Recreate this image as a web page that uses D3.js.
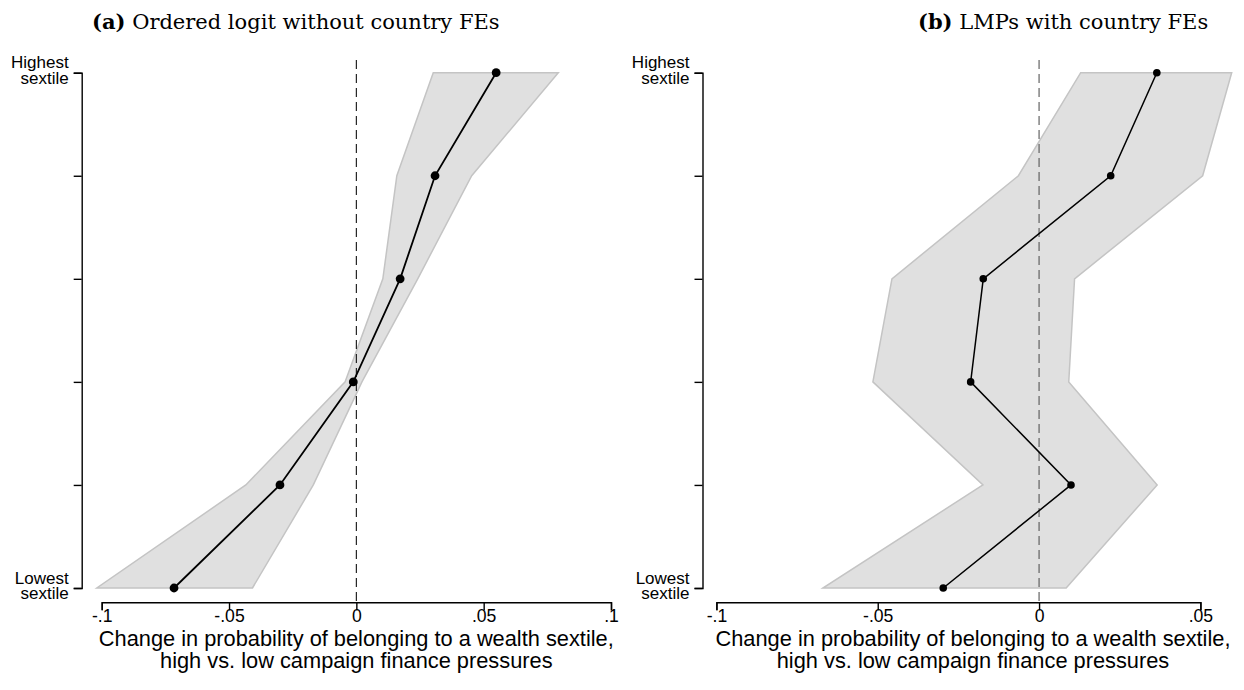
<!DOCTYPE html>
<html>
<head>
<meta charset="utf-8">
<script src="https://cdn.jsdelivr.net/npm/d3@7"></script>
<style>
  body { margin: 0; background: #fff; }
  svg { display: block; }
</style>
</head>
<body>
<svg id="chart" width="1244" height="690"></svg>
<script>
// sextile 1 = lowest, 6 = highest
const sextiles = [1, 2, 3, 4, 5, 6];
const ticksA = [-0.1, -0.05, 0, 0.05, 0.1];
const ticksB = [-0.1, -0.05, 0, 0.05];

// (a) ordered logit without country FEs
const estA = [-0.0716, -0.0300, -0.0012, 0.0172, 0.0309, 0.0549];
const loA  = [-0.1019, -0.0434, -0.0044, 0.0104, 0.0159, 0.0302];
const hiA  = [-0.0408, -0.0169,  0.0022, 0.0241, 0.0453, 0.0793];

// (b) LMPs with country FEs
const estB = [-0.0297,  0.0099, -0.0212, -0.0173,  0.0222, 0.0365];
const loB  = [-0.0670, -0.0174, -0.0515, -0.0456, -0.0064, 0.0129];
const hiB  = [ 0.0084,  0.0366,  0.0092,  0.0110,  0.0507, 0.0597];

const xTitle = ["Change in probability of belonging to a wealth sextile,",
                "high vs. low campaign finance pressures"];

const svg = d3.select("#chart");
const sans = "'Liberation Sans', Arial, sans-serif";
const serif = "'DejaVu Serif', serif";

const fmt = d => String(d).replace(/^(-?)0\./, "$1.");

const y = d3.scaleLinear().domain([1, 6]).range([588, 72.7]);

function drawPanel(o) {
  const g = svg.append("g");
  const x = d3.scaleLinear().domain(o.domain).range(o.range);
  const rows = sextiles.map((s, i) => ({ s, est: o.est[i], lo: o.lo[i], hi: o.hi[i] }));

  // title
  const t = g.append("text")
    .attr("x", o.titleX).attr("y", 28.5)
    .style("font-family", serif).style("font-size", "21px");
  t.append("tspan").style("font-weight", "bold").text(o.tag);
  t.append("tspan").text(" " + o.title);

  // confidence band
  const area = d3.area()
    .y(d => y(d.s))
    .x0(d => x(d.lo))
    .x1(d => x(d.hi));
  g.append("path")
    .datum(rows)
    .attr("d", area)
    .attr("fill", "#e0e0e0")
    .attr("stroke", "#c4c4c4")
    .attr("stroke-width", 1.5);

  // zero reference line
  g.append("line")
    .attr("x1", x(0)).attr("x2", x(0))
    .attr("y1", 60).attr("y2", 602)
    .attr("stroke", o.dashColor)
    .attr("stroke-width", 1.1)
    .attr("stroke-dasharray", "9,5");

  // estimates
  const line = d3.line().x(d => x(d.est)).y(d => y(d.s));
  g.append("path")
    .datum(rows)
    .attr("d", line)
    .attr("fill", "none")
    .attr("stroke", "#000")
    .attr("stroke-width", o.lw);

  g.selectAll("circle.pt")
    .data(rows)
    .enter().append("circle")
    .attr("class", "pt")
    .attr("cx", d => x(d.est))
    .attr("cy", d => y(d.s))
    .attr("r", o.r)
    .attr("fill", "#000");

  // x axis
  const xAxis = g.append("g")
    .attr("transform", "translate(0,602.3)")
    .call(d3.axisBottom(x).tickValues(o.ticks).tickSize(8).tickFormat(fmt));
  xAxis.select(".domain").attr("stroke-width", 1.4);
  xAxis.selectAll(".tick line").attr("stroke-width", 1.4);
  xAxis.selectAll("text")
    .attr("y", 7).attr("dy", "0.71em")
    .style("font-family", sans).style("font-size", "17.6px").attr("fill", "#000");

  // y axis
  const yAxis = g.append("g")
    .attr("transform", `translate(${o.axisX},0)`)
    .call(d3.axisLeft(y).tickValues(sextiles).tickSize(8).tickFormat(""));
  yAxis.select(".domain").attr("stroke-width", 1.4);
  yAxis.selectAll(".tick line").attr("stroke-width", 1.4);

  const ends = [{ s: 6, lines: ["Highest", "sextile"] }, { s: 1, lines: ["Lowest", "sextile"] }];
  ends.forEach(e => {
    const lt = g.append("text")
      .attr("text-anchor", "end")
      .style("font-family", sans).style("font-size", "17px");
    e.lines.forEach((l, i) => {
      lt.append("tspan")
        .attr("x", o.axisX - 13)
        .attr("y", y(e.s) - 4.5 + i * 15.8)
        .text(l);
    });
  });

  // x axis title
  const xt = g.append("text")
    .attr("text-anchor", "middle")
    .style("font-family", sans).style("font-size", "21.8px");
  xTitle.forEach((l, i) => {
    xt.append("tspan")
      .attr("x", o.titleCenter)
      .attr("y", 646 + i * 21.5)
      .text(l);
  });
}

drawPanel({
  tag: "(a)", title: "Ordered logit without country FEs", titleX: 92,
  domain: [-0.1, 0.1], range: [101.7, 611], ticks: ticksA,
  est: estA, lo: loA, hi: hiA,
  axisX: 81.7, titleCenter: 356.3, r: 4.4, lw: 1.8, dashColor: "#111"
});

drawPanel({
  tag: "(b)", title: "LMPs with country FEs", titleX: 918,
  domain: [-0.1, 0.05], range: [716.4, 1200.4], ticks: ticksB,
  est: estB, lo: loB, hi: hiB,
  axisX: 702.5, titleCenter: 973, r: 3.8, lw: 1.5, dashColor: "#555"
});
</script>
</body>
</html>
